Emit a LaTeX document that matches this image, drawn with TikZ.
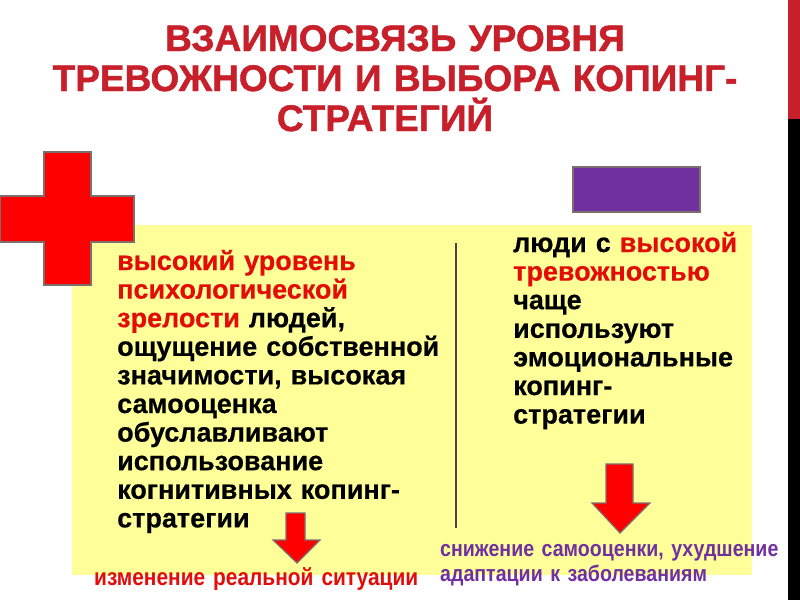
\documentclass[tikz,border=0pt]{standalone}
\usepackage{fontspec}
\setmainfont{Liberation Sans}
\newfontfamily\narrowfont[FakeStretch=0.87]{Liberation Sans}
\newfontfamily\heavyfont[FakeBold=1.2]{Liberation Sans}
\newfontfamily\bodyfont[FakeBold=0.5]{Liberation Sans}
\definecolor{titlered}{RGB}{200,32,42}
\definecolor{txtred}{RGB}{226,12,8}
\definecolor{paleyellow}{RGB}{255,255,153}
\definecolor{violet}{RGB}{112,48,160}
\definecolor{crossred}{RGB}{255,0,0}
\definecolor{edgegray}{RGB}{125,110,110}
\definecolor{divgray}{RGB}{70,70,70}
\tikzset{
  body/.style={anchor=base west, inner sep=0pt, align=left, text width=#1,
    font=\bodyfont\bfseries\fontsize{27}{28.6}\selectfont},
  shapeedge/.style={draw=edgegray, line width=1.5pt},
  downarrow/.style={fill=crossred, draw=edgegray, line width=1.2pt, line join=miter},
  foot/.style={anchor=base west, inner sep=0pt, align=left, text width=#1}
}
\begin{document}
\begin{tikzpicture}[x=1pt,y=-1pt]
\useasboundingbox (0,0) rectangle (800,600);
\fill[white] (0,0) rectangle (800,600);
% right edge bar
\fill[titlered] (788,0) rectangle (800,119);
\fill[black] (788,119) rectangle (800,600);
% yellow panel
\fill[paleyellow] (72,225) rectangle (752,575);
% red cross
\path[fill=crossred, shapeedge] (44,152) -- (91,152) -- (91,196) -- (134,196) -- (134,242) -- (91,242) -- (91,285) -- (44,285) -- (44,242) -- (0,242) -- (0,196) -- (44,196) -- cycle;
% purple rectangle
\path[fill=violet, shapeedge] (573,167) rectangle (700,212);
% title
\node[inner sep=0pt, anchor=base, align=center, text width=780pt, text=titlered,
  font=\heavyfont\bfseries\fontsize{37}{40}\selectfont] (title) at (395,51)
  {ВЗАИМОСВЯЗЬ УРОВНЯ\hspace*{24pt}\\ТРЕВОЖНОСТИ И ВЫБОРА КОПИНГ-\\СТРАТЕГИЙ\hspace*{20pt}};
% divider
\coordinate (divtop) at (456,243);
\coordinate (divbot) at (456,528);
\draw[divgray, line width=1.6pt] (divtop) -- (divbot);
% left text block
\node[body=340pt] (left) at (117,270)
  {\textcolor{txtred}{высокий уровень\\психологической\\зрелости} людей,\\ощущение собственной\\значимости, высокая\\самооценка\\обуславливают\\использование\\когнитивных копинг-\\стратегии};
% right text block
\node[body=240pt] (right) at (513,252)
  {люди с \textcolor{txtred}{высокой\\тревожностью}\\чаще\\используют\\эмоциональные\\копинг-\\стратегии};
% arrows
\path[downarrow] (286,513) -- (305,513) -- (305,540) -- (320,540) -- (297,563) -- (273,540) -- (286,540) -- cycle;
\path[downarrow] (606,464) -- (633,464) -- (633,503) -- (650,503) -- (620,533) -- (592,503) -- (606,503) -- cycle;
% bottom captions
\node[foot=340pt, text=txtred, font=\narrowfont\bfseries\fontsize{24}{24}\selectfont] (change) at (94,585)
  {изменение реальной ситуации};
\node[foot=360pt, text=violet, font=\narrowfont\bfseries\fontsize{22.5}{25}\selectfont] (decline) at (440,556)
  {снижение самооценки, ухудшение\\адаптации к заболеваниям};
\end{tikzpicture}
\end{document}
